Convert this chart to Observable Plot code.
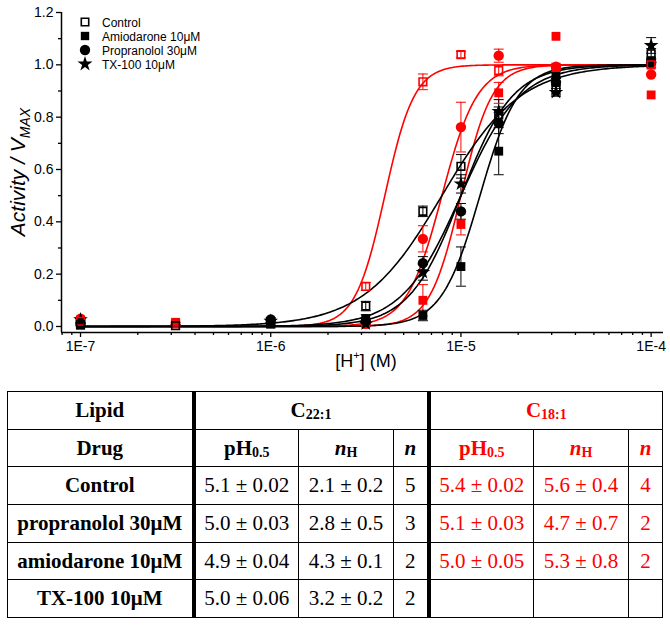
<!DOCTYPE html>
<html><head><meta charset="utf-8">
<script src="https://cdn.jsdelivr.net/npm/d3@7"></script>
<script src="https://cdn.jsdelivr.net/npm/@observablehq/plot@0.6"></script>
<style>
body{margin:0;background:#fff;font-family:"Liberation Sans",Arial,sans-serif;}
#chart{width:670px;height:390px;}
table{border-collapse:collapse;margin-left:7px;margin-top:1px;font-family:"Liberation Serif","Times New Roman",serif;font-size:21px;table-layout:fixed;width:655px;color:#000;}
td{border:1.5px solid #000;height:36.7px;padding:0;text-align:center;white-space:nowrap;}
td.b{font-weight:bold;}
td.thick{border-left:4px solid #000;}
.red{color:#ff0000;}
sub{font-size:14px;vertical-align:-2px;line-height:0;}
</style>
</head><body>
<div id="chart"></div>
<div id="tbl"></div>
<script>
// ---------- data ----------
const hConc = [1e-7, 3.16e-7, 1e-6, 3.16e-6, 6.31e-6, 1e-5, 1.58e-5, 3.16e-5, 1e-4];
const seriesNames = ["Control", "Amiodarone 10μM", "Propranolol 30μM", "TX-100 10μM"];

// C22:1 (black)
const blkControl    = [0.007, 0.003, 0.010, 0.078, 0.440, 0.612, 0.809, 0.905, 1.042];
const blkControlErr = [0.005, 0.004, 0.006, 0.018, 0.020, 0.045, 0.030, 0.020, 0.020];
const blkAmio       = [0.005, null, 0.010, 0.030, 0.042, 0.229, 0.670, 0.963, 1.016];
const blkAmioErr    = [0, 0, 0.005, 0.015, 0.020, 0.075, 0.090, 0.015, 0.010];
const blkProp       = [0.010, null, 0.027, 0.020, 0.242, 0.440, 0.777, 0.934, 1.010];
const blkPropErr    = [0.005, 0, 0.006, 0.010, 0.025, 0.030, 0.040, 0.015, 0.010];
const blkTx         = [0.026, null, 0.020, 0.010, 0.207, 0.545, 0.822, 0.895, 1.074];
const blkTxErr      = [0.006, 0, 0.005, 0.008, 0.030, 0.035, 0.045, 0.015, 0.030];

// C18:1 (red)
const redControl    = [0.020, 0.010, null, 0.153, 0.935, 1.039, 0.978, 0.990, 1.000];
const redControlErr = [0.005, 0.004, 0, 0.015, 0.030, 0.012, 0.020, 0.010, 0.010];
const redAmio       = [0.025, 0.016, null, 0.010, 0.100, 0.390, 0.893, 1.109, 0.885];
const redAmioErr    = [0, 0, 0, 0, 0.060, 0.040, 0.040, 0, 0];
const redProp       = [0.030, null, null, 0.010, 0.335, 0.762, 1.035, 0.993, 0.963];
const redPropErr    = [0, 0, 0, 0, 0.050, 0.095, 0.025, 0, 0];

// Hill fit parameters (from the table): control, propranolol, amiodarone, TX-100
const c22pH0 = [5.1, 5.0, 4.9, 5.0];
const c22nH0 = [2.1, 2.8, 4.3, 3.2];
const c18pH0 = [5.4, 5.1, 5.0];
const c18nH0 = [5.6, 4.7, 5.3];

// axes
const xDomain = [Math.pow(10, -7.1), Math.pow(10, -3.935)];
const yDomain = [-0.023, 1.2];
const xMajor = [1e-7, 1e-6, 1e-5, 1e-4];
const xTickLabels = ["1E-7", "1E-6", "1E-5", "1E-4"];
const yMajor = [0, 0.2, 0.4, 0.6, 0.8, 1.0, 1.2];
const yTickLabels = ["0.0", "0.2", "0.4", "0.6", "0.8", "1.0", "1.2"];
const yMinor = [0.1, 0.3, 0.5, 0.7, 0.9, 1.1];

// table
const drugs = ["Control", "propranolol 30μM", "amiodarone 10μM", "TX-100 10μM"];
const c22pHtxt = ["5.1 ± 0.02", "5.0 ± 0.03", "4.9 ± 0.04", "5.0 ± 0.06"];
const c22nHtxt = ["2.1 ± 0.2", "2.8 ± 0.5", "4.3 ± 0.1", "3.2 ± 0.2"];
const c22n = ["5", "3", "2", "2"];
const c18pHtxt = ["5.4 ± 0.02", "5.1 ± 0.03", "5.0 ± 0.05", ""];
const c18nHtxt = ["5.6 ± 0.4", "4.7 ± 0.7", "5.3 ± 0.8", ""];
const c18n = ["4", "2", "2", ""];

// ---------- build ----------
const BLACK = "#000000", RED = "#ff0000";
function pts(vals, errs, color, kind) {
  return hConc.map((h, i) => ({h, y: vals[i], e: errs[i], color, kind})).filter(d => d.y != null);
}
const allPts = [
  ...pts(redControl, redControlErr, RED, "open"),
  ...pts(redAmio, redAmioErr, RED, "square"),
  ...pts(redProp, redPropErr, RED, "circle"),
  ...pts(blkControl, blkControlErr, BLACK, "open"),
  ...pts(blkAmio, blkAmioErr, BLACK, "square"),
  ...pts(blkProp, blkPropErr, BLACK, "circle"),
  ...pts(blkTx, blkTxErr, BLACK, "star")
];
const errPts = allPts.filter(d => d.e > 0);

const hGrid = d3.range(0, 301).map(i => Math.pow(10, -7 + 3 * i / 300));
function hill(pH0, nH, color, id) {
  const K = Math.pow(10, -pH0);
  return hGrid.map(h => ({h, y: 1 / (1 + Math.pow(K / h, nH)), color, id}));
}
const redCurves = c18pH0.flatMap((p, i) => hill(p, c18nH0[i], RED, "r" + i));
const blkCurves = c22pH0.flatMap((p, i) => hill(p, c22nH0[i], BLACK, "b" + i));

const xMinor = [];
[1e-8, 1e-7, 1e-6, 1e-5].forEach(dec => { for (let k = 2; k <= 9; k++) { const v = k * dec; if (v >= xDomain[0] && v <= xDomain[1]) xMinor.push(v); } });

const cap = {draw(ctx) { ctx.moveTo(-5, 0); ctx.lineTo(5, 0); }};

const plot = Plot.plot({
  width: 670, height: 390,
  marginTop: 12, marginBottom: 58, marginLeft: 61, marginRight: 7,
  style: {fontSize: "14px", fontFamily: "'Liberation Sans', Arial, sans-serif", color: "#000", background: "#fff"},
  x: {type: "log", domain: xDomain, label: null},
  y: {domain: yDomain, label: null},
  marks: [
    Plot.line(redCurves, {x: "h", y: "y", z: "id", stroke: RED, strokeWidth: 1.6}),
    Plot.line(blkCurves, {x: "h", y: "y", z: "id", stroke: BLACK, strokeWidth: 1.6}),
    Plot.ruleX(errPts, {x: "h", y1: d => d.y - d.e, y2: d => d.y + d.e, stroke: "color", strokeWidth: 1}),
    Plot.dot(errPts, {x: "h", y: d => d.y - d.e, symbol: cap, stroke: "color", strokeWidth: 1, r: 3}),
    Plot.dot(errPts, {x: "h", y: d => d.y + d.e, symbol: cap, stroke: "color", strokeWidth: 1, r: 3}),
    Plot.dot(allPts.filter(d => d.kind === "square"), {x: "h", y: "y", symbol: "square", fill: "color", r: 5}),
    Plot.dot(allPts.filter(d => d.kind === "circle"), {x: "h", y: "y", symbol: "circle", fill: "color", r: 5.2}),
    Plot.dot(allPts.filter(d => d.kind === "star"), {x: "h", y: "y", symbol: "star", fill: "color", r: 4.6}),
    Plot.dot(allPts.filter(d => d.kind === "open"), {x: "h", y: "y", symbol: "square", fill: "none", stroke: "color", strokeWidth: 1.6, r: 4.3}),
    Plot.ruleX([xDomain[0]], {stroke: "#000", strokeWidth: 1.5}),
    Plot.ruleY([yDomain[0]], {stroke: "#000", strokeWidth: 1.5}),
    Plot.axisY({ticks: yMajor, tickFormat: d => yTickLabels[yMajor.indexOf(d)], tickSize: 5, tickPadding: 3, strokeWidth: 1.3, label: null}),
    Plot.axisY({ticks: yMinor, tickFormat: () => "", tickSize: 3, strokeWidth: 1.3, label: null}),
    Plot.axisX({ticks: xMajor, tickFormat: d => xTickLabels[xMajor.indexOf(d)], tickSize: 5, tickPadding: 4, strokeWidth: 1.3, label: null}),
    Plot.axisX({ticks: xMinor, tickFormat: () => "", tickSize: 3, strokeWidth: 1.3, label: null})
  ]
});
document.getElementById("chart").appendChild(plot);

// titles and legend
const svg = d3.select(plot);
const xt = svg.append("text").attr("x", 366).attr("y", 367).attr("text-anchor", "middle")
  .attr("font-size", 18).attr("fill", "#000");
xt.append("tspan").text("[H");
xt.append("tspan").attr("font-size", 11).attr("dy", -8).text("+");
xt.append("tspan").attr("dy", 8).text("] (M)");

const yt = svg.append("text").attr("transform", "translate(25,172) rotate(-90)").attr("text-anchor", "middle")
  .attr("font-size", 21).attr("font-style", "italic").attr("fill", "#000");
yt.append("tspan").text("Activity / V");
yt.append("tspan").attr("font-size", 14).attr("dy", 5).text("MAX");

const legSymbols = [d3.symbolSquare, d3.symbolSquare, d3.symbolCircle, d3.symbolStar];
const legSizes = [55, 70, 85, 70];
const leg = svg.append("g").attr("text-anchor", "start");
seriesNames.forEach((name, i) => {
  const y = 22 + i * 14;
  const p = leg.append("path").attr("transform", `translate(85,${y})`)
    .attr("d", d3.symbol(legSymbols[i], legSizes[i])());
  if (i === 0) p.attr("fill", "none").attr("stroke", "#000").attr("stroke-width", 1.6);
  else p.attr("fill", "#000");
  leg.append("text").attr("x", 102).attr("y", y + 4.5).attr("text-anchor", "start")
    .attr("font-size", 12).attr("fill", "#000").text(name);
});

// table
const tbl = d3.select("#tbl").append("table");
const cg = tbl.append("colgroup");
[186, 105, 95, 35, 105, 95, 34].forEach(w => cg.append("col").style("width", w + "px"));
const r1 = tbl.append("tr");
r1.append("td").attr("class", "b").text("Lipid");
r1.append("td").attr("class", "b thick").attr("colspan", 3).html("C<sub>22:1</sub>");
r1.append("td").attr("class", "b thick red").attr("colspan", 3).html("C<sub>18:1</sub>");
const r2 = tbl.append("tr");
r2.append("td").attr("class", "b").text("Drug");
r2.append("td").attr("class", "b thick").html("pH<sub>0.5</sub>");
r2.append("td").attr("class", "b").html("<i>n</i><sub>H</sub>");
r2.append("td").attr("class", "b").html("<i>n</i>");
r2.append("td").attr("class", "b thick red").html("pH<sub>0.5</sub>");
r2.append("td").attr("class", "b red").html("<i>n</i><sub>H</sub>");
r2.append("td").attr("class", "b red").html("<i>n</i>");
drugs.forEach((d, i) => {
  const r = tbl.append("tr");
  r.append("td").attr("class", "b").text(d);
  r.append("td").attr("class", "thick").text(c22pHtxt[i]);
  r.append("td").text(c22nHtxt[i]);
  r.append("td").text(c22n[i]);
  r.append("td").attr("class", "thick red").text(c18pHtxt[i]);
  r.append("td").attr("class", "red").text(c18nHtxt[i]);
  r.append("td").attr("class", "red").text(c18n[i]);
});
</script>
</body></html>
